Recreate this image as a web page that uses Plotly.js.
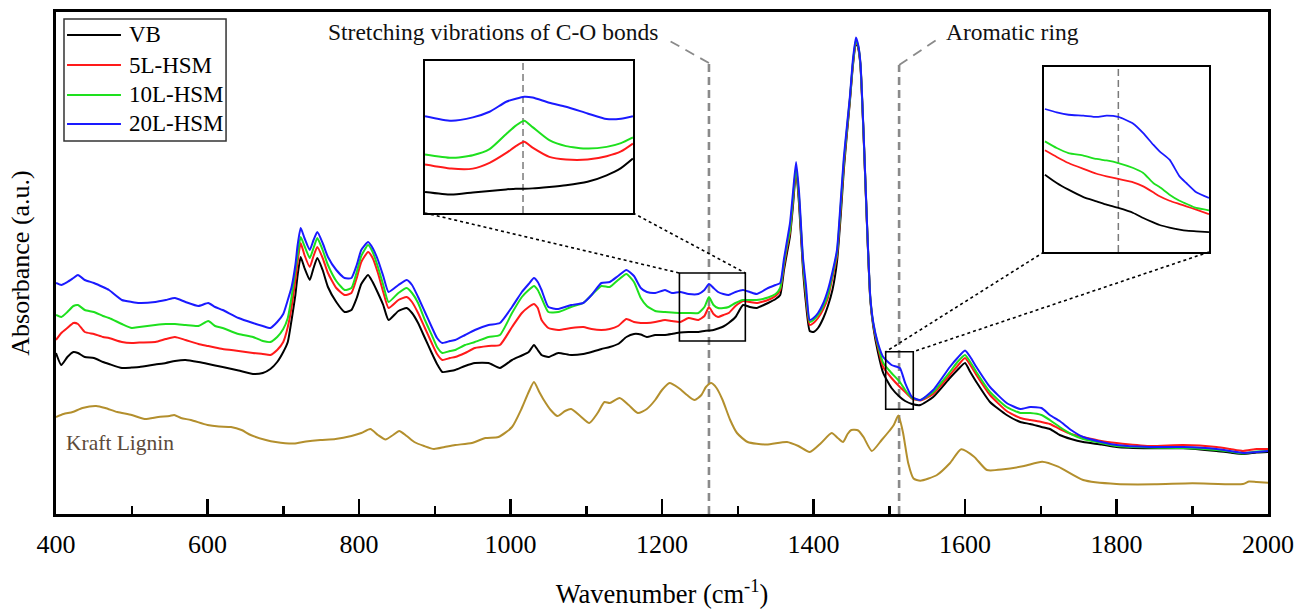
<!DOCTYPE html>
<html>
<head>
<meta charset="utf-8">
<script src="https://cdn.plot.ly/plotly-3.0.1.min.js"></script>
<style>html,body{margin:0;padding:0;background:#fff;}#chart{width:1306px;height:610px;}</style>
</head>
<body>
<div id="chart"></div>
<script>
// ---------------- DATA (absorbance in arbitrary units) ----------------
const seriesNames = ["VB", "5L-HSM", "10L-HSM", "20L-HSM"];
const seriesColors = ["#000000", "#ff1a1a", "#1ee01e", "#1a1aff"];
const ligninName = "Kraft Lignin";
const ligninColor = "#b38f2d";

const wavenumber = [400,407,415,423,429,438,450,462,470,487,500,510,531,545,557,571,588,601,610,620,641,660,673,683,692,700,706,711,716,719,723,728,735,740,745,752,759,770,781,790,797,803,812,818,825,832,839,852,863,870,878,887,896,903,910,920,927,940,953,971,986,1002,1015,1024,1031,1036,1041,1050,1063,1080,1096,1107,1120,1131,1142,1153,1163,1172,1180,1191,1204,1213,1224,1235,1248,1256,1262,1268,1274,1281,1288,1297,1307,1316,1325,1340,1350,1356,1361,1365,1369,1373,1377,1381,1386,1390,1395,1400,1406,1413,1419,1425,1431,1436,1440,1444,1448,1452,1456,1459,1462,1466,1471,1475,1479,1485,1492,1503,1514,1521,1530,1541,1558,1580,1590,1600,1607,1615,1633,1655,1673,1686,1701,1712,1725,1740,1756,1780,1800,1844,1888,1932,1950,1967,1985,2000];

const VB = [161,149,157,162,161,157,156,152,150,146,146.5,147,149.5,151,153,154,152,150,148.5,147,143.5,140,141,145,152,162,172,194,219,239,257,246,234,246,256,244,227,212,202,204,216,230,239,232,221,209,194,203,206,201,191,176,161,150,142,143,144,148,151,151,146,154,158.5,162,169,164,159,157,161,159,160,162,165,167,170,177,180,179.5,177,179,179,180,181.5,182,182,183,183.5,184,185.5,187.5,191,197,209,207,206,211,215,219,244,261,278,309,344,309,246,211,183,182,186,196,208,224,252,299,344,379,412,448,472,466,448,381,281,214,187,162,141,126,117,113,110,109,117,136,144,151,142,132,112,99,92,90,87,85,79,75,72,69.5,67,65.7,65.7,63,61.5,60,61.5,62];

const HSM5L = [174,181,186,191,190,182,180,177,176,172,171,171.5,172,175,177,174,170,168,166.5,165,163,161,160,159,164,172,187,207,234,252,271,259,247,258,267,256,241,226,219,221,236,252,262,256,241,222,206,214,217,212,201,186,171,160,154,156,157,161,166,168,169,187,201,207,210,206,194,186,184,186,187,185,184,185,188,195,192,191,191,192,194,193,192,196,194,198,207,200,197,199,201,208,213,212,211,214,218,224,248,266,282,314,346,314,251,218,189,191,196,205,216,236,258,306,349,382,414,450,473,467,449,382,282,215,189,167,147,136,127,122,115.5,113.5,120,139,148,156,149,139,119,103,96,94,92,90,85,80,77,73,71,68,69,67,65,63,65,65];

const HSM10L = [199,197,202,208,209,204,202,198,196,190,186,187,189,190,190,189,188,193,188,186,180,177,173,172,177,185,196,217,244,259,277,268,256,266,276,264,249,233,224,226,242,258,269,262,247,229,212,221,226,221,211,194,179,167,161,163,164,169,172,177,179,201,217,224,228,224,216,202,202,207,211,219,228,227,234,240,232,216,208,203,202,201.5,201,201,201,207,217,209,206,206,207,211,214,214,214,216.5,220,226,251,269,284,316,347,316,254,222,192,194,199,208,219,239,261,309,352,384,415,451,474,468,450,383,283,216,190,169,151,141,132,124,116,114,122,142,152,159,152,142,122,107,101,101,99,94,87,80,75,71,68,66.5,66,64,62.5,60.5,62.5,63];

const HSM20L = [231,229,232,236,239,234,231,227,224,214,212,211,212,214,216,212,208,211,207,204,196,191,188,186,192,200,214,227,249,269,286,276,264,274,282,271,257,244,236,236,249,264,272,266,254,238,222,229,234,229,217,202,187,176,171,173,174,179,184,189,191,207,222,230,236,232,224,207,205,209,211,219,231,232,238,244,238,226,222,221,224,221,222,220,220,224,230,226,222,220,219,222,224,222,220,226,229,231,255,273,291,322,352,321,257,229,194,196,201,211,224,242,264,314,356,387,417,454,476.5,469,451,384,284,217,191,171,157,149,146,131,117,114,124,147,156,163.5,157,147,127,111,105,107,106,99,93,84,77,72,69,67,67,65,63,61,62,63];

const ligninWavenumber = [400,410,422,435,453,465,481,500,517,535,550,556,565,578,600,615,631,645,657,677,690,714,730,749,769,790,803,815,825,835,845,853,863,873,886,899,913,927,949,967,984,1002,1015,1024,1031,1038,1044,1053,1062,1072,1080,1092,1104,1115,1124,1131,1144,1156,1168,1180,1191,1200,1210,1222,1233,1243,1252,1258,1265,1272,1280,1290,1299,1313,1338,1365,1380,1395,1410,1424,1432,1439,1445,1450,1459,1466,1477,1490,1500,1506,1512,1518,1525,1532,1541,1563,1580,1595,1612,1629,1651,1678,1702,1723,1756,1800,1850,1900,1967,1975,1985,2000];
const kraftLignin = [97,100,102,106,108,106,102,99,95,97,98,99,96,94,89,87.5,87,84,79,74,72,70.5,72.5,74,75,78,81,85,79,74.5,79,83,78,72,68,65,67,69,71,76,77,87,106,122,132,122,114,104,98,103,105,98,91,101,112,111,116,109,101,105,114,124,131,126,119,114,119,127,131,126,114,94,81,72,69.5,72,68,62,71,81,76,72,80,84,83.5,77,63,74,83,89,98.5,82,51,35.5,33.3,39,50.7,64.7,57.3,44,44.7,48,52.3,47.3,34,30,29.7,30.7,30,32.5,32,31.3];

// Inset 1: C-O stretching region (zoomed, inset units 0-100)
const coInsetWavenumber = [1223,1234,1243,1250,1257,1261,1264.5,1268,1275,1282,1291,1299,1305,1310];
const coInsetVB     = [13.8,12.1,13.5,14.5,15.5,16,16,16.2,17.1,18.2,20.5,24.8,29.5,35.8];
const coInset5L     = [31.9,29.2,29.2,33,39.5,44,46.8,43,36.9,35.2,35.2,37.4,40.5,45.7];
const coInset10L    = [38.5,36.3,38,42,52,57.5,60.7,56.5,47.9,44,42.4,43.5,46,49.7];
const coInset20L    = [63.7,60.7,62.9,66.6,73.2,75.2,76.5,76,72.5,69.9,65.5,61.8,62,63.7];

// Inset 2: aromatic ring region (zoomed, inset units 0-100)
const arInsetWavenumber = [1495.5,1498.1,1500.7,1504,1506.9,1509.1,1511.7,1515,1517.2,1519.4,1520.8,1523,1525.2,1526.7,1528.9,1531.7];
const arInsetVB  = [41.8,37.3,33.7,29.7,27.4,25.6,23.8,21.1,18.4,16,14.6,13.2,12.1,11.5,11.2,10.8];
const arInset5L  = [55,51.4,48.1,44.9,42.3,40.9,39.5,37.7,35.5,32.3,30.1,27.7,25.9,24.7,22.9,20.5];
const arInset10L = [59.8,56.2,53.5,52.1,50.3,49.5,48.1,45.4,42.7,37.3,35.1,31,27.7,26.1,23.8,22.5];
const arInset20L = [77.3,75.5,74.2,73.7,73,73.7,73,69.4,64.3,58,54.4,49.9,40.9,37.3,32.3,29.2];

const xTickVals = [400,600,800,1000,1200,1400,1600,1800,2000];
const coMarker = 1262, arMarker = 1513;          // marked bands
const coBox = {x0:1223, x1:1310, y0:173, y1:241}; // zoom windows in main axes
const arBox = {x0:1495.3, x1:1531.7, y0:104.7, y1:162.3};
const coLabel = "Stretching vibrations of C-O bonds";
const arLabel = "Aromatic ring";

// ---------------- LAYOUT GEOMETRY ----------------
const X_RANGE = [400, 2000], Y_RANGE = [0, 502];
const inset1 = {x:[0.3045, 0.476], y:[0.5996, 0.9024]};
const inset2 = {x:[0.8152, 0.9513], y:[0.5219, 0.8904]};
const legendGeom = {x0:0.0066, x1:0.1403, y0:0.743, y1:0.986, lineX0:0.0091, lineX1:0.0536, textX:0.0586,
  rows:[0.9542, 0.8944, 0.8347, 0.7769]};
const FONT = "'Liberation Serif', 'Times New Roman', serif";

const mainSeries = [VB, HSM5L, HSM10L, HSM20L];
const coSeries = [coInsetVB, coInset5L, coInset10L, coInset20L];
const arSeries = [arInsetVB, arInset5L, arInset10L, arInset20L];

const traces = [];
traces.push({x: ligninWavenumber, y: kraftLignin, type:'scatter', mode:'lines', name: ligninName,
  line:{color: ligninColor, width:2, shape:'spline', smoothing:0.6}, showlegend:false});
mainSeries.forEach((s,i) => traces.push({x: wavenumber, y: s, type:'scatter', mode:'lines',
  name: seriesNames[i], showlegend:false, line:{color: seriesColors[i], width:2, shape:'spline', smoothing:0.5}}));
coSeries.forEach((s,i) => traces.push({x: coInsetWavenumber, y: s, xaxis:'x2', yaxis:'y2', type:'scatter',
  mode:'lines', name: seriesNames[i], line:{color: seriesColors[i], width:2, shape:'spline', smoothing:0.6}, showlegend:false}));
arSeries.forEach((s,i) => traces.push({x: arInsetWavenumber, y: s, xaxis:'x3', yaxis:'y3', type:'scatter',
  mode:'lines', name: seriesNames[i], line:{color: seriesColors[i], width:1.8, shape:'spline', smoothing:0.5}, showlegend:false}));

const px = v => (v - X_RANGE[0]) / (X_RANGE[1] - X_RANGE[0]);
const py = v => (v - Y_RANGE[0]) / (Y_RANGE[1] - Y_RANGE[0]);

const dotted = {color:'#000', width:1.6, dash:'dot'};
const grayDash = {color:'#8a8a8a', width:2.6, dash:'8px,5px'};
const grayDiag = {color:'#8a8a8a', width:1.8, dash:'10px,7px'};
const insetDash = {color:'#7a7a7a', width:1.5, dash:'7px,4px'};

const shapes = [
  // marker lines
  {type:'line', xref:'x', yref:'y', x0:coMarker, x1:coMarker, y0:0, y1:451, line:grayDash, layer:'below'},
  {type:'line', xref:'x', yref:'y', x0:coMarker, x1:1208, y0:451, y1:474, line:grayDiag, layer:'below'},
  {type:'line', xref:'x', yref:'y', x0:arMarker, x1:arMarker, y0:0, y1:449, line:grayDash, layer:'below'},
  {type:'line', xref:'x', yref:'y', x0:arMarker, x1:1566, y0:449, y1:476, line:grayDiag, layer:'below'},
  // zoom windows
  {type:'rect', xref:'x', yref:'y', x0:coBox.x0, x1:coBox.x1, y0:coBox.y0, y1:coBox.y1, line:{color:'#000', width:1.6}},
  {type:'rect', xref:'x', yref:'y', x0:arBox.x0, x1:arBox.x1, y0:arBox.y0, y1:arBox.y1, line:{color:'#000', width:1.6}},
  // connectors
  {type:'line', xref:'paper', yref:'paper', x0:inset1.x[0], y0:inset1.y[0], x1:px(coBox.x0), y1:py(coBox.y1), line:dotted},
  {type:'line', xref:'paper', yref:'paper', x0:inset1.x[1], y0:inset1.y[0], x1:px(coBox.x1), y1:py(coBox.y1), line:dotted},
  {type:'line', xref:'paper', yref:'paper', x0:inset2.x[0], y0:inset2.y[0], x1:px(arBox.x0), y1:py(arBox.y1), line:dotted},
  {type:'line', xref:'paper', yref:'paper', x0:inset2.x[1], y0:inset2.y[0], x1:px(arBox.x1), y1:py(arBox.y1), line:dotted},
  // inset markers
  {type:'line', xref:'x2', yref:'y2', x0:1264, x1:1264, y0:0, y1:100, line:insetDash, layer:'below'},
  {type:'line', xref:'x3', yref:'y3', x0:1511.7, x1:1511.7, y0:0, y1:100, line:insetDash, layer:'below'},
  // legend frame
  {type:'rect', xref:'paper', yref:'paper', x0:legendGeom.x0, x1:legendGeom.x1, y0:legendGeom.y0, y1:legendGeom.y1,
    line:{color:'#333', width:1.5}, fillcolor:'#fff'}
];

const annotations = [
  {text: coLabel, xref:'x', yref:'y', x:977, y:482, showarrow:false, font:{family:FONT, size:23.5, color:'#111'}},
  {text: arLabel, xref:'x', yref:'y', x:1663, y:482, showarrow:false, font:{family:FONT, size:23.5, color:'#111'}},
  {text: ligninName, xref:'paper', yref:'y', x:0.007, y:71, xanchor:'left', showarrow:false, font:{family:FONT, size:21.5, color:'#5c4a3a'}}
];

// legend entries (drawn from series names / colours)
seriesNames.forEach((nm, i) => {
  const yy = legendGeom.rows[i];
  shapes.push({type:'line', xref:'paper', yref:'paper', x0:legendGeom.lineX0, x1:legendGeom.lineX1, y0:yy, y1:yy,
    line:{color: seriesColors[i], width:2.2}});
  annotations.push({text:nm, xref:'paper', yref:'paper', x:legendGeom.textX, y:yy, xanchor:'left', yanchor:'middle',
    showarrow:false, font:{family:FONT, size:23, color:'#000'}});
});

const insetAxis = {showline:true, mirror:true, linecolor:'#000', linewidth:2, ticks:'', showticklabels:false,
  showgrid:false, zeroline:false, fixedrange:true};

const layout = {
  width:1306, height:610,
  margin:{l:56, r:38, t:12, b:96},
  paper_bgcolor:'#fff', plot_bgcolor:'#fff',
  font:{family:FONT, color:'#000'},
  showlegend:false,
  xaxis:{range:X_RANGE, tickvals:xTickVals, ticks:'inside', ticklen:15, tickwidth:2.5, tickcolor:'#000',
    showline:true, linewidth:3, linecolor:'#000', mirror:true, showgrid:false, zeroline:false,
    tickfont:{family:FONT, size:26}, ticklabelstandoff:5,
    minor:{dtick:100, ticks:'inside', ticklen:8, tickwidth:2.5, tickcolor:'#000', showgrid:false},
    title:{text:'Wavenumber (cm<sup>-1</sup>)', font:{family:FONT, size:26.5}, standoff:27}},
  yaxis:{range:Y_RANGE, showticklabels:false, ticks:'', showline:true, linewidth:3, linecolor:'#000', mirror:true,
    showgrid:false, zeroline:false,
    title:{text:'Absorbance (a.u.)', font:{family:FONT, size:26}, standoff:16}},
  xaxis2:Object.assign({domain:inset1.x, anchor:'y2', range:[coBox.x0, coBox.x1]}, insetAxis),
  yaxis2:Object.assign({domain:inset1.y, anchor:'x2', range:[0,100]}, insetAxis),
  xaxis3:Object.assign({domain:inset2.x, anchor:'y3', range:[arBox.x0, arBox.x1]}, insetAxis),
  yaxis3:Object.assign({domain:inset2.y, anchor:'x3', range:[0,100]}, insetAxis),
  shapes: shapes,
  annotations: annotations
};

Plotly.newPlot('chart', traces, layout, {displayModeBar:false, staticPlot:true});
</script>
</body>
</html>
